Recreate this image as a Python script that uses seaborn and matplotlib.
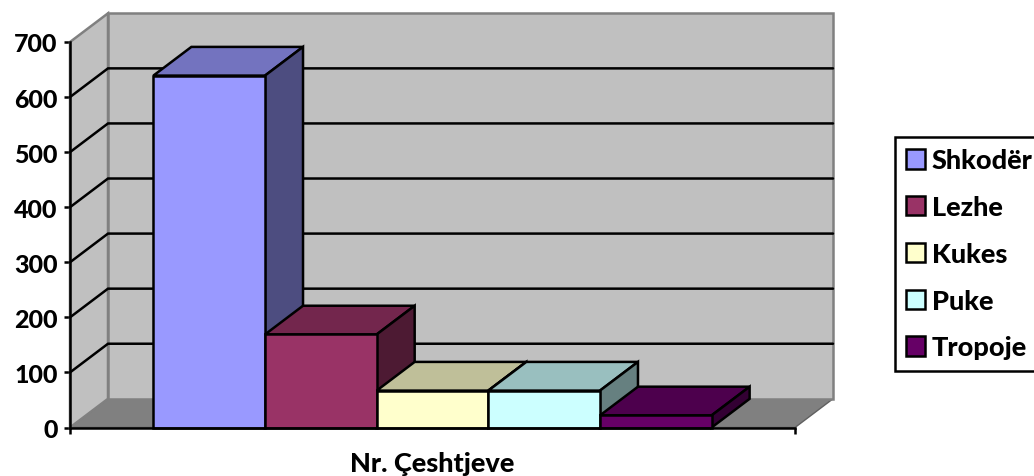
import matplotlib
matplotlib.use("Agg")
import matplotlib.pyplot as plt
import matplotlib.colors as mc
from matplotlib.patches import Polygon
import pandas as pd
import seaborn as sns

cities = ["Shkodër", "Lezhe", "Kukes", "Puke", "Tropoje"]
cases = [639, 169, 67, 67, 22]
colors = ["#9999FF", "#993366", "#FFFFCC", "#CCFFFF", "#660066"]
category = "Nr. Çeshtjeve"
yticks = [0, 100, 200, 300, 400, 500, 600, 700]

sns.set_theme(style="white")
plt.rcParams["font.family"] = ["Lato", "DejaVu Sans"]
plt.rcParams["font.weight"] = 900

W, H = 1034, 477
fig = plt.figure(figsize=(W / 100, H / 100), dpi=100, facecolor="white")
L, R, T, B = 70, 795, 43, 428.5
ax = fig.add_axes([L / W, 1 - B / H, (R - L) / W, (B - T) / H])
ax.patch.set_visible(False)

df = pd.DataFrame({"cat": [category] * len(cities), "city": cities, "n": cases})
sns.barplot(data=df, x="cat", y="n", hue="city", hue_order=cities, palette=colors,
            width=0.77, gap=0, saturation=1, edgecolor="black", linewidth=1.8,
            legend=True, ax=ax)
ax.set_xlim(-0.5, 0.5)
ax.set_ylim(0, 700)

DX = 38 / (R - L)
DY = 28.7 / (B - T) * 700
lw = 1.8
x0, x1 = -0.5, 0.5
y1 = 700

def poly(pts, fc, ec, z, w=lw):
    ax.add_patch(Polygon(pts, closed=True, facecolor=fc, edgecolor=ec, linewidth=w,
                         zorder=z, clip_on=False, joinstyle="miter"))

# walls and floor
poly([(x0, 0), (x1, 0), (x1 + DX, DY), (x0 + DX, DY)], "#808080", "#606060", 0.5, 1)
poly([(x0, 0), (x0 + DX, DY), (x0 + DX, y1 + DY), (x0, y1)], "#C0C0C0", "#808080", 0.6)
poly([(x0 + DX, DY), (x1 + DX, DY), (x1 + DX, y1 + DY), (x0 + DX, y1 + DY)], "#C0C0C0", "#808080", 0.7)
for v in yticks[1:-1]:
    ax.plot([x0, x0 + DX, x1 + DX], [v, v + DY, v + DY], color="black", lw=lw,
            zorder=0.8, clip_on=False, solid_joinstyle="miter")

# bar faces
bars = [c[0] for c in ax.containers]
for i, (bar, col) in enumerate(zip(bars, colors)):
    x, w, h = bar.get_x(), bar.get_width(), bar.get_height()
    rgb = mc.to_rgb(col)
    top = tuple(c * 0.75 for c in rgb)
    side = tuple(c * 0.5 for c in rgb)
    z = 2 + i
    poly([(x, h), (x + w, h), (x + w + DX, h + DY), (x + DX, h + DY)], top, "black", z)
    poly([(x + w, 0), (x + w + DX, DY), (x + w + DX, h + DY), (x + w, h)], side, "black", z)
    bar.set_zorder(z + 0.1)
    bar.set_clip_on(False)

# axes
sns.despine(ax=ax)
for s in ("left", "bottom"):
    ax.spines[s].set_linewidth(lw)
    ax.spines[s].set_color("black")
    ax.spines[s].set_zorder(10)
ax.set_yticks(yticks)
ax.set_xticks([x0, x1], ["", ""])
ax.tick_params(axis="both", length=4.5, width=lw, color="black", left=True, bottom=True)
ax.tick_params(axis="y", labelsize=18, labelcolor="black", pad=4.5)
ax.set_ylabel("")
ax.set_xlabel(category, fontsize=19.5, fontweight=900, color="black", labelpad=9)

# legend, running off the right edge of the figure as in the source
h, l = ax.get_legend_handles_labels()
leg = ax.legend(h, l, loc="upper left", bbox_to_anchor=(894.5 / W, 1 - 138 / H),
                bbox_transform=fig.transFigure, frameon=True, fancybox=False,
                edgecolor="black", facecolor="white", framealpha=1, handlelength=0.72,
                handleheight=0.72, handletextpad=0.24, labelspacing=0.84, borderpad=0.42,
                borderaxespad=0, prop={"weight": 900, "size": 19.5})
leg.get_frame().set_linewidth(lw)
leg.set_zorder(20)
for t in leg.get_texts():
    t.set_color("black")

fig.savefig("out.png", dpi=100, facecolor="white")
